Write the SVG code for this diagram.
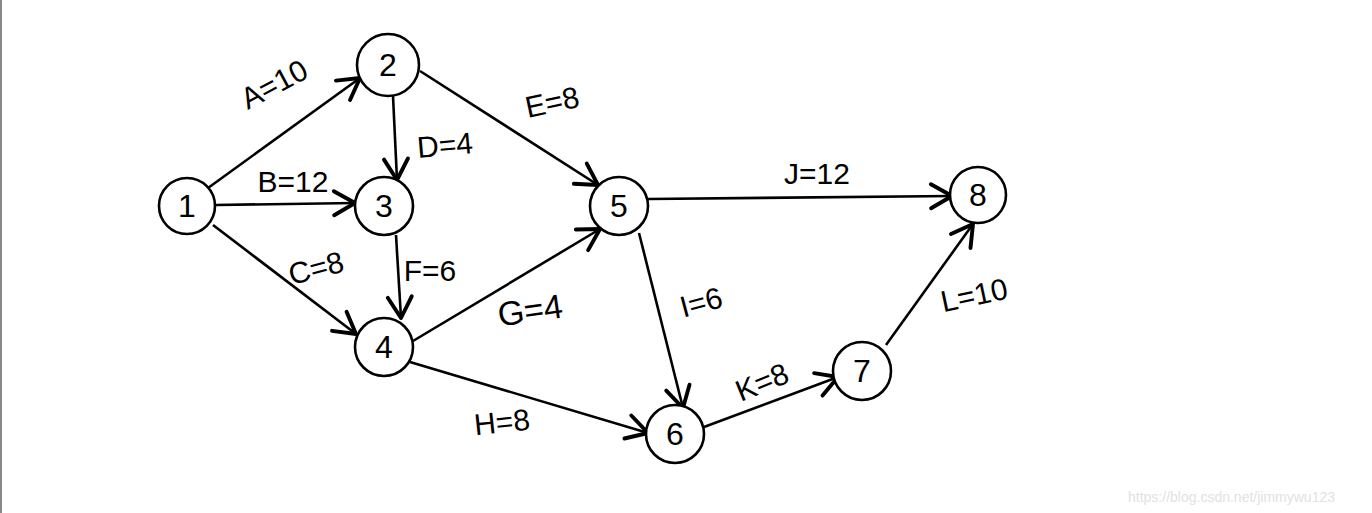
<svg xmlns="http://www.w3.org/2000/svg" width="1372" height="513" viewBox="0 0 1372 513">
<style>
.node circle{fill:#fff;stroke:#000;stroke-width:2.6}
.node text{font-family:"Liberation Sans",Arial,sans-serif;font-size:32px;fill:#000;text-anchor:middle;dominant-baseline:central}
.edges line{stroke:#000;stroke-width:2.6;fill:none;marker-end:url(#arr)}
.lbl{font-family:"Liberation Sans",Arial,sans-serif;font-size:30px;fill:#000;text-anchor:middle;dominant-baseline:central}
.wm{font-family:"Liberation Sans",Arial,sans-serif;font-size:14px;fill:#e2e2e2}
</style>
<defs>
<marker id="arr" markerUnits="userSpaceOnUse" markerWidth="30" markerHeight="30" refX="0" refY="0" viewBox="-16 -10 20 20" orient="auto" overflow="visible">
<path d="M-14,-8 L0,0 L-14,8" fill="none" stroke="#000" stroke-width="2.6" stroke-linecap="round" stroke-linejoin="round"/>
</marker>
</defs>
<rect x="0" y="0" width="1372" height="513" fill="#fff"/>
<rect x="0" y="0" width="2" height="513" fill="#888"/>
<g class="edges">
<line id="eA" x1="208" y1="188" x2="360" y2="78"/>
<line id="eB" x1="216" y1="205" x2="355" y2="203"/>
<line id="eC" x1="213" y1="225" x2="356" y2="334"/>
<line id="eD" x1="393" y1="96" x2="397" y2="180"/>
<line id="eE" x1="420" y1="71" x2="598" y2="185"/>
<line id="eF" x1="396" y1="235" x2="401" y2="318"/>
<line id="eG" x1="413" y1="341" x2="600" y2="229"/>
<line id="eH" x1="410" y1="362" x2="648" y2="433"/>
<line id="eI" x1="639" y1="233" x2="683" y2="408"/>
<line id="eJ" x1="648" y1="199" x2="952" y2="196"/>
<line id="eK" x1="704" y1="427" x2="838" y2="377"/>
<line id="eL" x1="886" y1="345" x2="973" y2="224"/>
</g>
<g id="labels">
<text class="lbl" transform="translate(274,84) rotate(-28)">A=10</text>
<text class="lbl" x="293" y="181">B=12</text>
<text class="lbl" transform="translate(316,268) rotate(-15)">C=8</text>
<text class="lbl" transform="translate(445,145) rotate(-5)">D=4</text>
<text class="lbl" transform="translate(552,102) rotate(-12)">E=8</text>
<text class="lbl" x="430" y="270">F=6</text>
<text class="lbl" transform="translate(530,310) rotate(-8)" style="font-size:34px">G=4</text>
<text class="lbl" transform="translate(502,422) rotate(-6)">H=8</text>
<text class="lbl" transform="translate(701,302) rotate(-15)">I=6</text>
<text class="lbl" x="817" y="173">J=12</text>
<text class="lbl" transform="translate(762,382) rotate(-22)">K=8</text>
<text class="lbl" transform="translate(974,295) rotate(-12)">L=10</text>
</g>
<g id="n1" class="node"><circle cx="187" cy="206" r="28"/><text x="187" y="206">1</text></g>
<g id="n2" class="node"><circle cx="388" cy="65" r="31"/><text x="388" y="65">2</text></g>
<g id="n3" class="node"><circle cx="384" cy="206" r="29"/><text x="384" y="206">3</text></g>
<g id="n4" class="node"><circle cx="384" cy="347" r="29"/><text x="384" y="347">4</text></g>
<g id="n5" class="node"><circle cx="619" cy="206" r="29"/><text x="619" y="206">5</text></g>
<g id="n6" class="node"><circle cx="675" cy="434" r="29"/><text x="675" y="434">6</text></g>
<g id="n7" class="node"><circle cx="862" cy="371" r="29"/><text x="862" y="371">7</text></g>
<g id="n8" class="node"><circle cx="978" cy="195" r="28"/><text x="978" y="195">8</text></g>
<text class="wm" x="1128" y="502">https://blog.csdn.net/jimmywu123</text>
</svg>
